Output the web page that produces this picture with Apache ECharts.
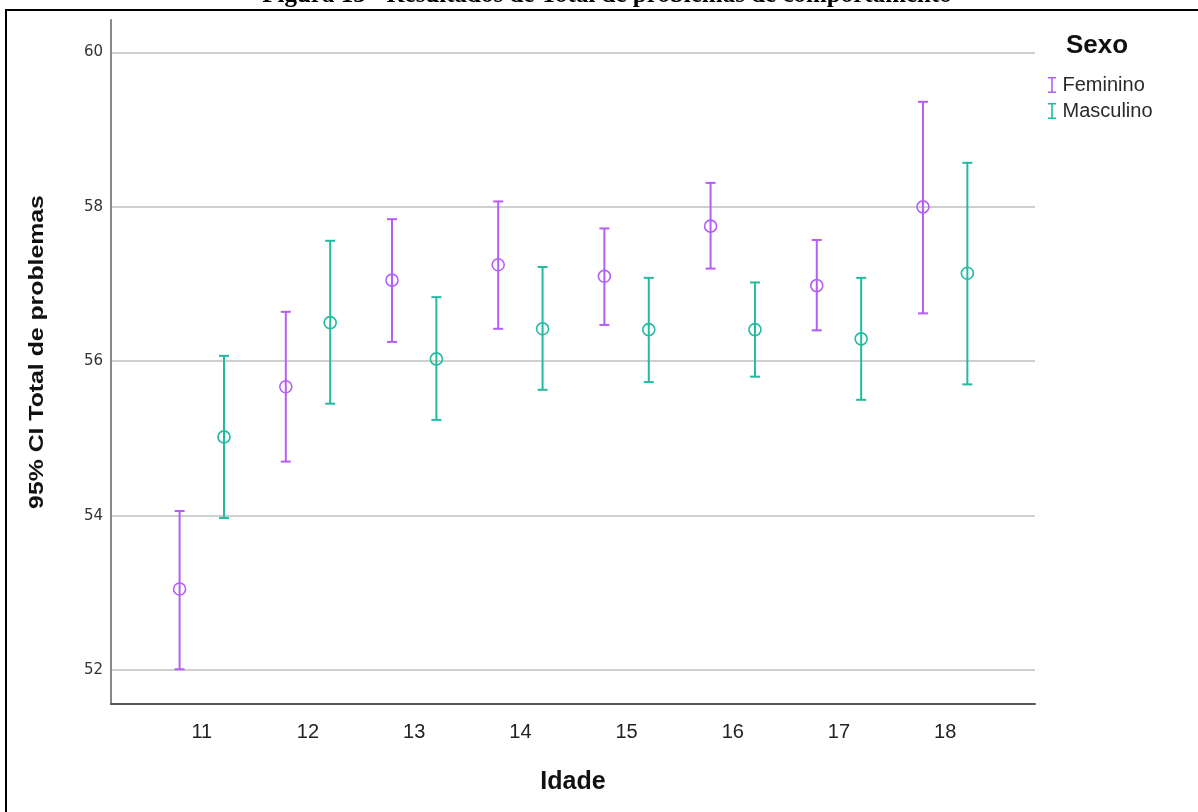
<!DOCTYPE html>
<html>
<head>
<meta charset="utf-8">
<script src="https://cdn.jsdelivr.net/npm/echarts@6/dist/echarts.min.js"></script>
<style>
  html, body { margin: 0; padding: 0; background: #fff; }
  #chart { width: 1198px; height: 812px; }
</style>
</head>
<body>
<div id="chart"></div>
<script>
// Age groups on the x axis
const ages = [11, 12, 13, 14, 15, 16, 17, 18];
// Mean and 95% CI bounds of "Total de problemas" by sex
const femMean = [53.05, 55.67, 57.05, 57.25, 57.10, 57.75, 56.98, 58.00];
const femLow  = [52.01, 54.70, 56.25, 56.42, 56.47, 57.20, 56.40, 56.62];
const femHigh = [54.06, 56.64, 57.84, 58.07, 57.72, 58.31, 57.57, 59.36];
const mascMean = [55.02, 56.50, 56.03, 56.42, 56.41, 56.41, 56.29, 57.14];
const mascLow  = [53.97, 55.45, 55.24, 55.63, 55.73, 55.80, 55.50, 55.70];
const mascHigh = [56.07, 57.56, 56.83, 57.22, 57.08, 57.02, 57.08, 58.57];
// Value axis tick labels
const yTicks = [52, 54, 56, 58, 60];

const FEM_COLOR = '#b45ef7';
const MASC_COLOR = '#22bba2';
const SHIFT = 0.209;   // horizontal dodge between the two groups
const CAP = 5;         // half width of the whisker caps, px
const FONT = '"Liberation Sans", Arial, sans-serif';
const UI_FONT = '"DejaVu Sans", Verdana, sans-serif';

function ciRows(low, high, dx) {
  return ages.map((a, i) => [a + dx, low[i], high[i]]);
}
function meanRows(mean, dx) {
  return ages.map((a, i) => [a + dx, mean[i]]);
}

function renderCI(params, api) {
  const x = api.value(0);
  const lo = api.coord([x, api.value(1)]);
  const hi = api.coord([x, api.value(2)]);
  const style = { stroke: api.visual('color'), lineWidth: 2, fill: null };
  return {
    type: 'group',
    children: [
      { type: 'line', shape: { x1: lo[0], y1: lo[1], x2: hi[0], y2: hi[1] }, style },
      { type: 'line', shape: { x1: hi[0] - CAP, y1: hi[1], x2: hi[0] + CAP, y2: hi[1] }, style },
      { type: 'line', shape: { x1: lo[0] - CAP, y1: lo[1], x2: lo[0] + CAP, y2: lo[1] }, style }
    ]
  };
}

const barIcon = 'path://M0,0 H10 V2 H6 V18 H10 V20 H0 V18 H4 V2 H0 Z';

const chart = echarts.init(document.getElementById('chart'), null, { renderer: 'canvas' });
chart.setOption({
  animation: false,
  backgroundColor: '#ffffff',
  grid: { left: 111, right: 163, top: 20, bottom: 108 },
  graphic: [
    {
      type: 'rect', z: 0,
      shape: { x: 6, y: 10, width: 1200, height: 820 },
      style: { fill: null, stroke: '#000', lineWidth: 2 }
    },
    {
      type: 'text', x: 607, y: 8,
      style: {
        text: 'Figura 13 - Resultados de Total de problemas de comportamento',
        font: 'bold 25px "Liberation Serif", "Times New Roman", serif',
        fill: '#000', align: 'center', verticalAlign: 'bottom'
      }
    },
    {
      type: 'text', left: 1066, top: 33,
      style: { text: 'Sexo', font: 'bold 26px ' + FONT, fill: '#111' }
    },
    {
      // value axis title, drawn slightly elongated along its reading direction
      type: 'text', x: 37, y: 352, rotation: Math.PI / 2, scaleX: 1.24,
      style: {
        text: '95% CI Total de problemas',
        font: 'bold 20px ' + FONT, fill: '#111',
        align: 'center', verticalAlign: 'middle'
      }
    }
  ],
  legend: {
    orient: 'vertical',
    left: 1043, top: 70,
    itemWidth: 9, itemHeight: 16, itemGap: 6,
    textStyle: { fontFamily: FONT, fontSize: 20, color: '#2a2a2a', padding: [0, 0, 0, 1] },
    data: [
      { name: 'Feminino', icon: barIcon },
      { name: 'Masculino', icon: barIcon }
    ]
  },
  xAxis: {
    type: 'value',
    min: 10.145, max: 18.846,
    name: 'Idade', nameLocation: 'middle', nameGap: 66,
    nameTextStyle: { fontFamily: FONT, fontSize: 25, fontWeight: 'bold', color: '#111' },
    axisLine: { show: true, lineStyle: { color: '#555', width: 2 } },
    axisTick: { show: false, customValues: ages },
    splitLine: { show: false },
    axisLabel: {
      customValues: ages, margin: 18,
      fontFamily: FONT, fontSize: 20, color: '#222'
    }
  },
  yAxis: {
    type: 'value',
    min: 51.56, max: 60.42,
    axisLine: { show: true, lineStyle: { color: '#888', width: 2 } },
    axisTick: { show: false, customValues: yTicks },
    splitLine: { show: true, lineStyle: { color: '#cfcfcf', width: 2 } },
    axisLabel: {
      customValues: yTicks, margin: 8, padding: [5, 0, 0, 0],
      fontFamily: UI_FONT, fontSize: 15, color: '#333'
    }
  },
  series: [
    {
      name: 'Feminino', type: 'custom', color: FEM_COLOR,
      renderItem: renderCI, encode: { x: 0, y: [1, 2] },
      data: ciRows(femLow, femHigh, -SHIFT), z: 3
    },
    {
      name: 'Masculino', type: 'custom', color: MASC_COLOR,
      renderItem: renderCI, encode: { x: 0, y: [1, 2] },
      data: ciRows(mascLow, mascHigh, SHIFT), z: 3
    },
    {
      name: 'Feminino', type: 'scatter', symbol: 'circle', symbolSize: 12,
      itemStyle: { color: 'rgba(255,255,255,0)', borderColor: FEM_COLOR, borderWidth: 1.6, opacity: 1 },
      data: meanRows(femMean, -SHIFT), z: 4
    },
    {
      name: 'Masculino', type: 'scatter', symbol: 'circle', symbolSize: 12,
      itemStyle: { color: 'rgba(255,255,255,0)', borderColor: MASC_COLOR, borderWidth: 1.6, opacity: 1 },
      data: meanRows(mascMean, SHIFT), z: 4
    }
  ]
});
</script>
</body>
</html>
